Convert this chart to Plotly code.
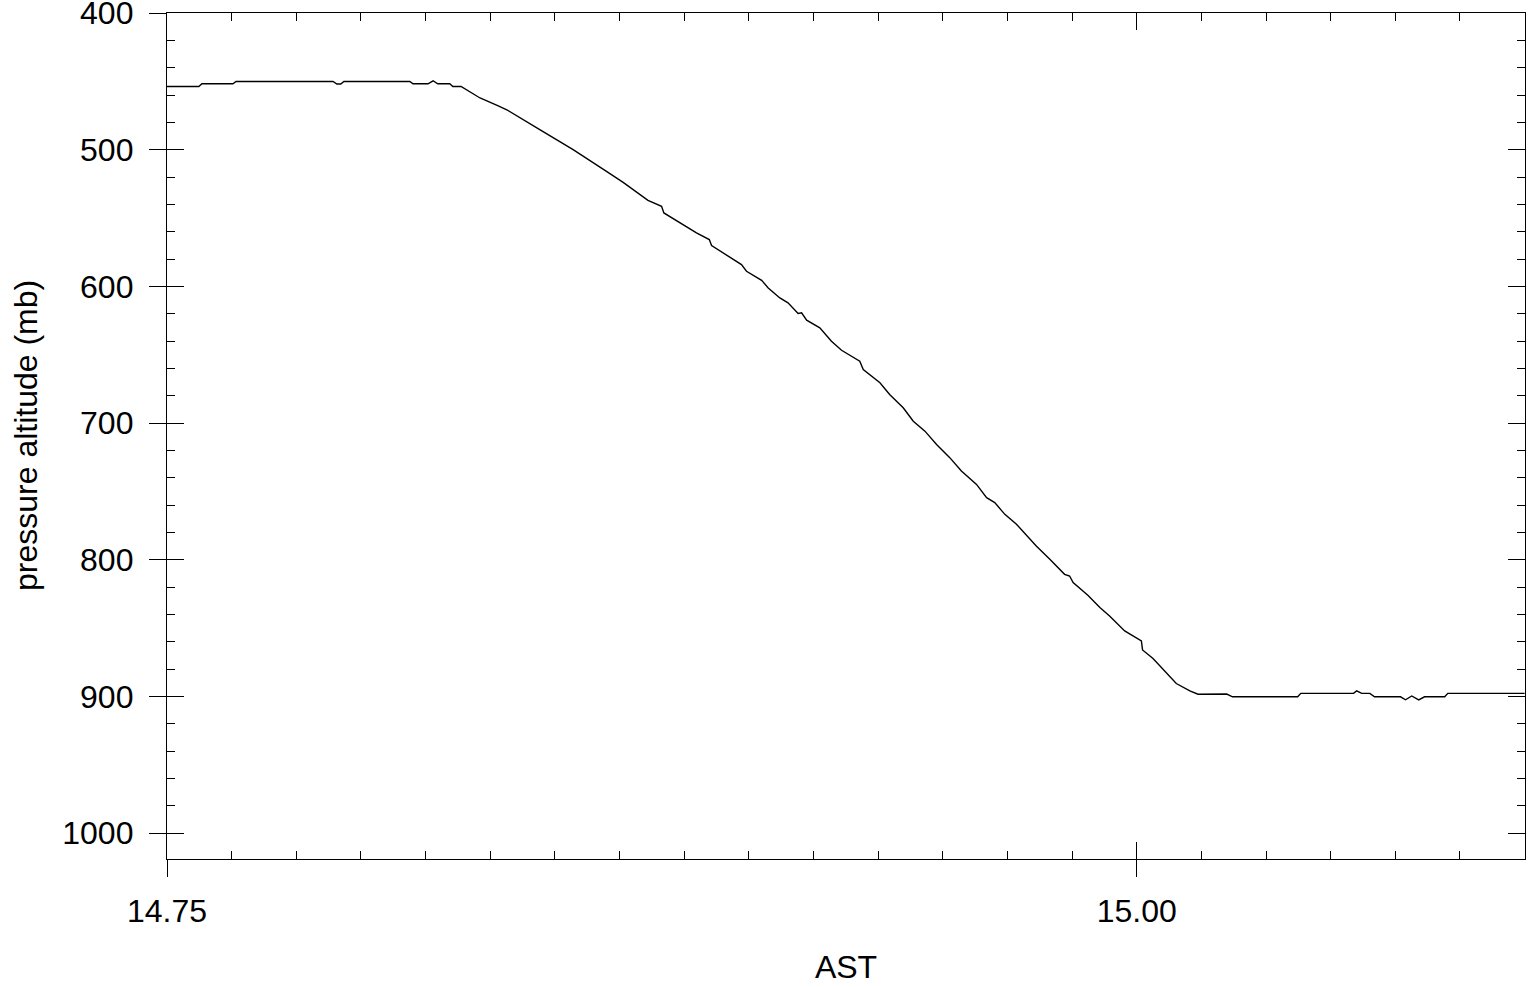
import plotly.graph_objects as go

# Time (AST, decimal hours) and pressure altitude (mb)
ast_hours = [
    14.7500, 14.7582, 14.7590, 14.7670, 14.7678, 14.7928, 14.7938, 14.7948, 14.7956,
    14.8126, 14.8134, 14.8173, 14.8186, 14.8198, 14.8229, 14.8237, 14.8258,
    14.8307, 14.8354, 14.8376, 14.8461, 14.8547, 14.8633, 14.8676, 14.8740,
    14.8775, 14.8781, 14.8865, 14.8898, 14.8904, 14.8981, 14.8994, 14.9033,
    14.9050, 14.9080, 14.9101, 14.9127, 14.9136, 14.9149, 14.9183, 14.9213,
    14.9239, 14.9286, 14.9295, 14.9338, 14.9363, 14.9398, 14.9424, 14.9454,
    14.9484, 14.9518, 14.9548, 14.9587, 14.9613, 14.9634, 14.9660, 14.9690,
    14.9720, 14.9741, 14.9776, 14.9814, 14.9827, 14.9836, 14.9874, 14.9905,
    14.9930, 14.9969, 15.0012, 15.0015, 15.0042, 15.0072, 15.0102, 15.0137,
    15.0158, 15.0232, 15.0247, 15.0415, 15.0423, 15.0559, 15.0567, 15.0580,
    15.0601, 15.0613, 15.0680, 15.0693, 15.0709, 15.0727, 15.0742, 15.0794,
    15.0802, 15.1000,
]
pressure_mb = [
    453.7, 453.7, 451.7, 451.7, 450.0, 450.0, 451.9, 451.9, 450.0,
    450.0, 451.7, 451.7, 449.5, 451.7, 451.7, 453.7, 453.7,
    462.1, 467.8, 470.7, 485.3, 499.9, 515.8, 523.8, 537.0,
    541.4, 546.2, 560.8, 565.7, 570.1, 584.0, 588.9, 595.5,
    601.1, 608.4, 612.0, 619.8, 619.3, 624.7, 630.3, 640.1,
    646.7, 654.7, 660.8, 670.5, 679.1, 688.8, 698.6, 705.9,
    715.6, 725.3, 735.1, 744.9, 754.6, 758.2, 766.8, 774.1,
    783.8, 790.0, 799.7, 810.7, 811.9, 816.7, 826.0, 835.0,
    841.1, 852.1, 859.4, 866.0, 872.3, 881.4, 890.6, 896.0,
    898.4, 898.3, 900.3, 900.3, 897.8, 897.8, 896.0, 897.8,
    897.8, 900.3, 900.3, 902.5, 899.7, 902.6, 900.3, 900.3,
    897.8, 897.8,
]

x_title = "AST"
y_title = "pressure altitude (mb)"

x_range = [14.75, 15.1001]
y_range = [1019, 399.9]

FONT = "Liberation Sans, Arial, sans-serif"
BLACK = "#000000"
LW = 1.3

fig = go.Figure()
# invisible copy on the overlay axes so that they get drawn
fig.add_trace(go.Scatter(
    x=ast_hours, y=pressure_mb, mode="lines", xaxis="x2", yaxis="y2",
    line=dict(color="rgba(0,0,0,0)", width=0), showlegend=False, hoverinfo="skip",
))
fig.add_trace(go.Scatter(
    x=ast_hours, y=pressure_mb, mode="lines",
    line=dict(color=BLACK, width=1.4), showlegend=False, hoverinfo="skip",
))

common = dict(showgrid=False, zeroline=False, tickcolor=BLACK, tickwidth=LW,
              linecolor=BLACK, linewidth=LW, automargin=False)

fig.update_layout(
    width=1531, height=987,
    margin=dict(l=167, r=6, t=13, b=128),
    paper_bgcolor="white", plot_bgcolor="white",
    font=dict(family=FONT, size=32, color=BLACK),
    xaxis=dict(
        range=x_range, tickmode="linear", tick0=14.75, dtick=0.25, tickformat=".2f",
        ticks="outside", ticklen=17, showline=True, mirror=False,
        ticklabelstandoff=6, ticklabeloverflow="allow",
        title=dict(text=x_title, standoff=28, font=dict(size=32)),
        **common,
    ),
    xaxis2=dict(
        range=x_range, overlaying="x", anchor="y2", side="bottom",
        tickmode="linear", tick0=14.75, dtick=0.25,
        ticks="inside", ticklen=17, showticklabels=False,
        showline=True, mirror="ticks",
        minor=dict(ticks="inside", ticklen=8, tick0=14.75, dtick=1/60,
                   tickcolor=BLACK, tickwidth=LW, showgrid=False),
        **common,
    ),
    yaxis=dict(
        range=y_range, tickmode="linear", tick0=400, dtick=100,
        ticks="outside", ticklen=17, showline=True, mirror=False,
        ticklabelstandoff=9, ticklabeloverflow="allow",
        **common,
    ),
    yaxis2=dict(
        range=y_range, overlaying="y", anchor="x2", side="left",
        tickmode="linear", tick0=400, dtick=100,
        ticks="inside", ticklen=17, showticklabels=False,
        showline=True, mirror="ticks",
        minor=dict(ticks="inside", ticklen=8, tick0=400, dtick=20,
                   tickcolor=BLACK, tickwidth=LW, showgrid=False),
        **common,
    ),
    annotations=[dict(
        text=y_title, textangle=-90, showarrow=False,
        xref="paper", yref="paper", x=0, y=0.5,
        xanchor="center", yanchor="middle", xshift=-141,
        font=dict(family=FONT, size=32, color=BLACK),
    )],
)

fig.write_html("out.html", config={"displayModeBar": False},
               post_script="document.body.style.margin='0px';")
